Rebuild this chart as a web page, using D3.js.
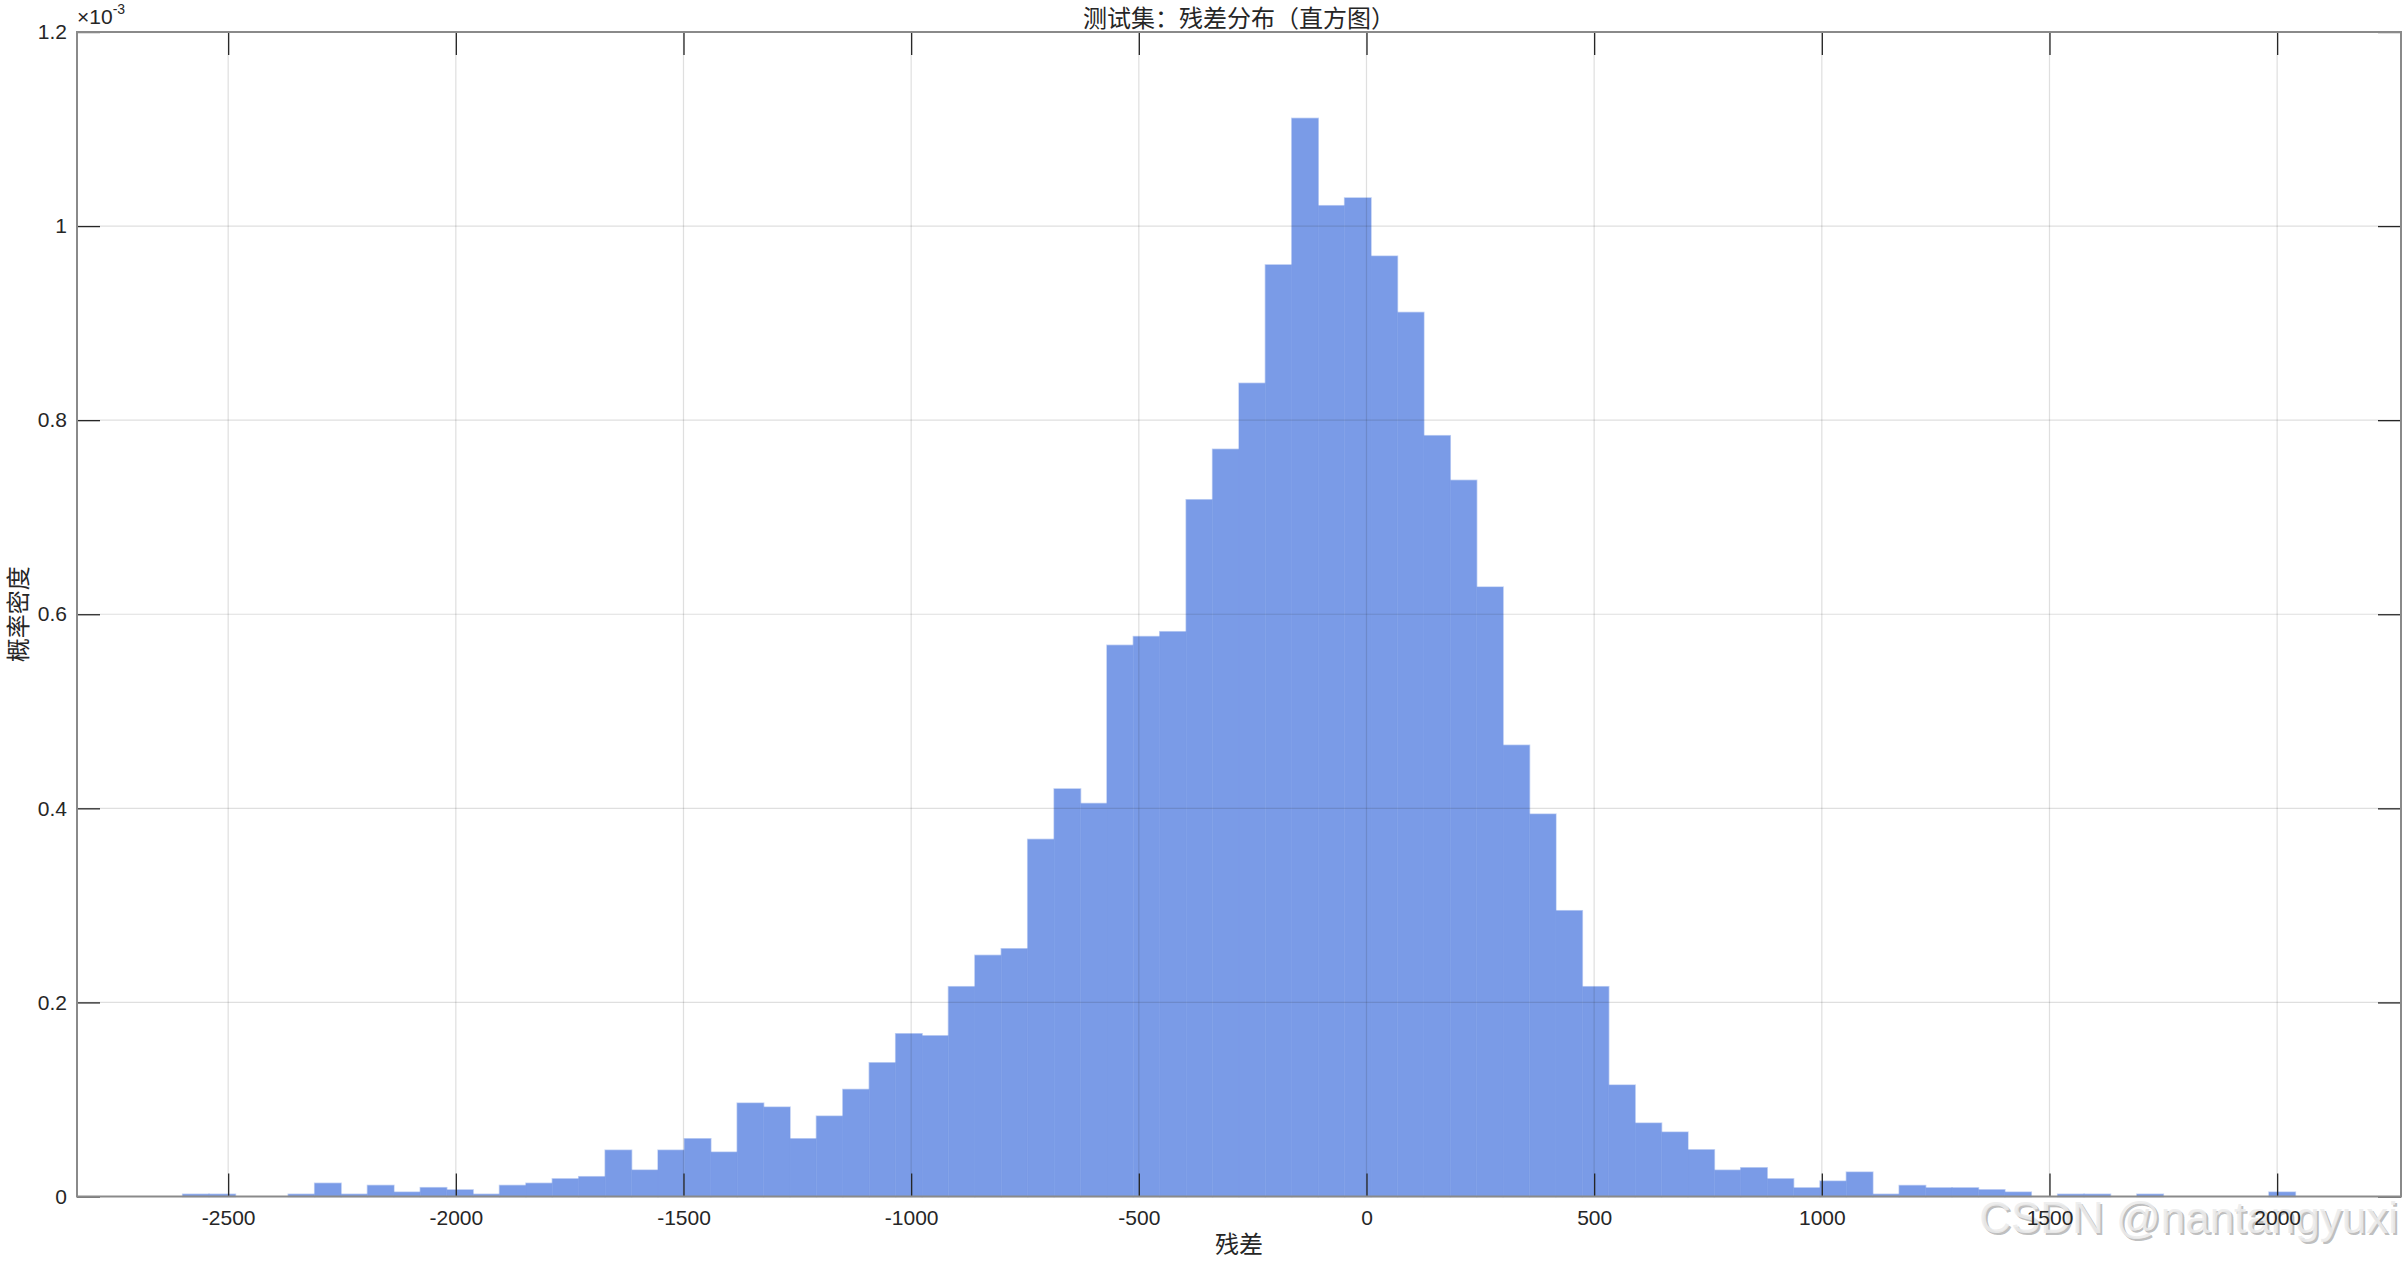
<!DOCTYPE html>
<html>
<head>
<meta charset="utf-8">
<script src="https://cdn.jsdelivr.net/npm/d3@7"></script>
<style>
  html, body { margin: 0; padding: 0; background: #ffffff; }
  svg { display: block; }
</style>
</head>
<body>
<svg id="chart" width="2405" height="1261"></svg>
<script>
// ---------------- data ----------------
const binStart = -2600;          // left edge of first bin
const binWidth = 58;             // bin width (residual units)
// probability density per bin, in units of 1e-3
const density = [
  0.0023, 0.0023, 0,      0,      0.0023, 0.0136, 0.0023, 0.0114, 0.0045, 0.0091,
  0.0068, 0.0023, 0.0114, 0.0136, 0.0182, 0.0204, 0.0477, 0.0272, 0.0477, 0.0595,
  0.0457, 0.0962, 0.0921, 0.0595, 0.0828, 0.1103, 0.1378, 0.1677, 0.1656, 0.2162,
  0.2485, 0.2553, 0.368,  0.420,  0.405,  0.568,  0.577,  0.582,  0.718,  0.770,
  0.838,  0.960,  1.111,  1.021,  1.029,  0.969,  0.911,  0.784,  0.738,  0.628,
  0.465,  0.394,  0.2945, 0.2162, 0.1148, 0.0756, 0.0663, 0.0481, 0.0271, 0.0296,
  0.0182, 0.0089, 0.0158, 0.0251, 0.0023, 0.0113, 0.0089, 0.0089, 0.0069, 0.0045,
  0,      0.0023, 0.0023, 0,      0.0023, 0,      0,      0,      0,      0.0045
];
const xTicks = [-2500, -2000, -1500, -1000, -500, 0, 500, 1000, 1500, 2000];
const xTickLabels = ["-2500", "-2000", "-1500", "-1000", "-500", "0", "500", "1000", "1500", "2000"];
const yTicks = [0, 0.2, 0.4, 0.6, 0.8, 1, 1.2];
const yTickLabels = ["0", "0.2", "0.4", "0.6", "0.8", "1", "1.2"];
const xDomain = [-2832, 2272];
const yDomain = [0, 1.2];
const titleText = "测试集：残差分布（直方图）";
const xLabelText = "残差";
const yLabelText = "概率密度";
const exponentText = "-3";
const watermarkText = "CSDN @nantangyuxi";

// ---------------- layout ----------------
const L = 77, R = 2401, T = 32, B = 1196.5;
const tickLen = 23;
const numFont = "'Liberation Sans', Arial, Helvetica, sans-serif";
const cjkFont = "'Noto Sans CJK SC', 'Noto Sans', sans-serif";
const ink = "#262626";

const svg = d3.select("#chart");
const x = d3.scaleLinear().domain(xDomain).range([L, R]);
const y = d3.scaleLinear().domain(yDomain).range([B, T]);

const bins = density.map((d, i) => ({
  x0: binStart + i * binWidth,
  x1: binStart + (i + 1) * binWidth,
  v: d
})).filter(b => b.v > 0);

// watermark (under everything else)
const wm = svg.append("g").attr("font-family", numFont).attr("font-size", 44).attr("text-anchor", "end");
wm.append("text").attr("x", 2400).attr("y", 1234.5).attr("fill", "rgba(110,110,110,0.45)").text(watermarkText);
wm.append("text").attr("x", 2398).attr("y", 1232.5).attr("fill", "rgba(236,236,236,0.9)").text(watermarkText);

// bars
svg.append("g").selectAll("rect").data(bins).join("rect")
  .attr("x", d => x(d.x0))
  .attr("width", d => x(d.x1) - x(d.x0))
  .attr("y", d => y(d.v))
  .attr("height", d => y(0) - y(d.v))
  .attr("fill", "#7a9be7")
  .attr("stroke", "rgba(122,155,231,0.45)")
  .attr("stroke-width", 1.5);

// grid (drawn on top, translucent)
const grid = svg.append("g").attr("stroke", "rgba(38,38,38,0.15)").attr("stroke-width", 1.2);
grid.selectAll(".gx").data(xTicks).join("line")
  .attr("x1", d => x(d)).attr("x2", d => x(d)).attr("y1", T).attr("y2", B);
grid.selectAll(".gy").data(yTicks).join("line")
  .attr("x1", L).attr("x2", R).attr("y1", d => y(d)).attr("y2", d => y(d));

// axes
function styleAxis(g) {
  g.select(".domain").remove();
  g.selectAll(".tick line").attr("stroke", ink).attr("stroke-width", 1.3);
  g.selectAll(".tick text").attr("fill", ink).attr("font-family", numFont).attr("font-size", 21);
}
svg.append("g").attr("transform", `translate(0,${B})`)
  .call(d3.axisBottom(x).tickValues(xTicks).tickFormat((d, i) => xTickLabels[i]).tickSize(-tickLen).tickSizeOuter(0).tickPadding(14))
  .call(styleAxis);
svg.append("g").attr("transform", `translate(0,${T})`)
  .call(d3.axisTop(x).tickValues(xTicks).tickFormat("").tickSize(-tickLen).tickSizeOuter(0))
  .call(styleAxis);
svg.append("g").attr("transform", `translate(${L},0)`)
  .call(d3.axisLeft(y).tickValues(yTicks).tickFormat((d, i) => yTickLabels[i]).tickSize(-tickLen).tickSizeOuter(0).tickPadding(10))
  .call(styleAxis);
svg.append("g").attr("transform", `translate(${R},0)`)
  .call(d3.axisRight(y).tickValues(yTicks).tickFormat("").tickSize(-tickLen).tickSizeOuter(0))
  .call(styleAxis);

// box
svg.append("rect").attr("x", L).attr("y", T).attr("width", R - L).attr("height", B - T)
  .attr("fill", "none").attr("stroke", "#8a8a8a").attr("stroke-width", 2);

// exponent label
const ex = svg.append("text").attr("x", 77).attr("y", 24)
  .attr("font-family", numFont).attr("font-size", 21).attr("fill", ink);
ex.append("tspan").text("×10");
ex.append("tspan").attr("font-size", 14).attr("dy", -10).text(exponentText);

// title and axis labels
svg.append("text").attr("x", (L + R) / 2).attr("y", 27).attr("text-anchor", "middle")
  .attr("font-family", cjkFont).attr("font-size", 24).attr("fill", ink).text(titleText);
svg.append("text").attr("x", (L + R) / 2).attr("y", 1253).attr("text-anchor", "middle")
  .attr("font-family", cjkFont).attr("font-size", 24).attr("fill", ink).text(xLabelText);
svg.append("text").attr("transform", `translate(27,${(T + B) / 2}) rotate(-90)`).attr("text-anchor", "middle")
  .attr("font-family", cjkFont).attr("font-size", 24).attr("fill", ink).text(yLabelText);
</script>
</body>
</html>
